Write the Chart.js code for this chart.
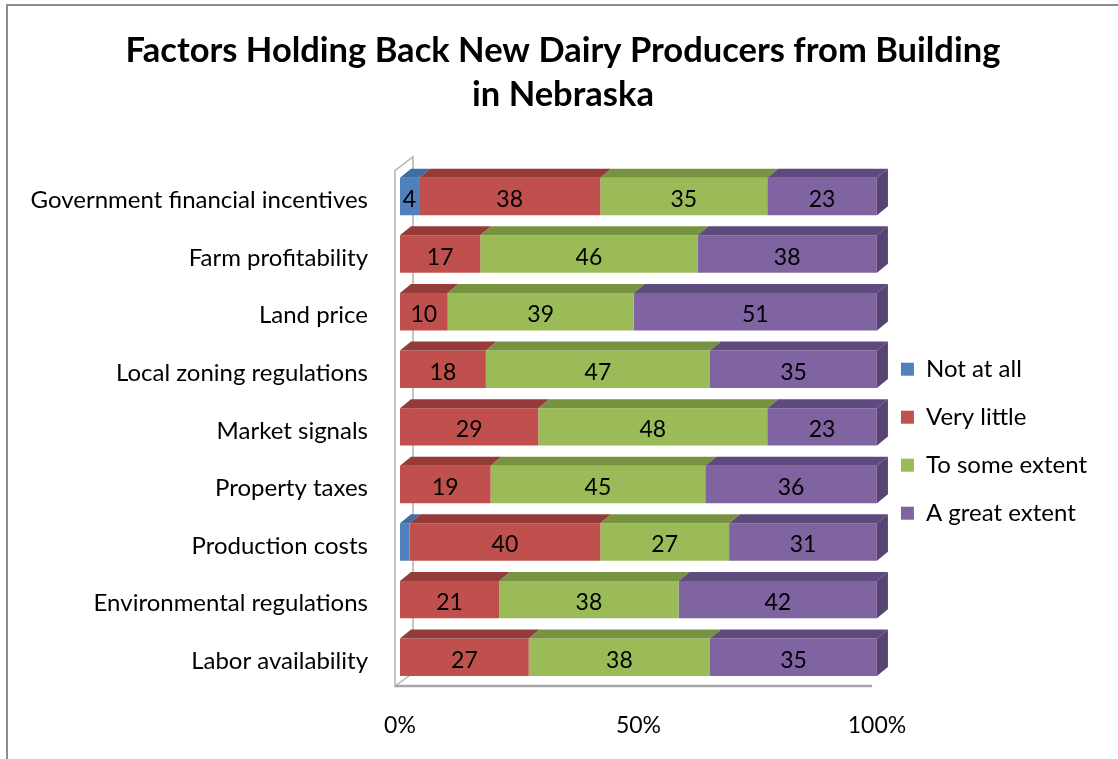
<!DOCTYPE html>
<html>
<head>
<meta charset="utf-8">
<script src="https://cdn.jsdelivr.net/npm/chart.js@4.4.1/dist/chart.umd.min.js"></script>
<style>
  html, body { margin: 0; padding: 0; background: #fff; overflow: hidden; }
  #frame { position: absolute; left: 6px; top: 4px; width: 1300px; height: 900px; border: 2px solid #8c8c8c; }
  #wrap { position: absolute; left: 0; top: 0; width: 1118px; height: 759px; }
</style>
</head>
<body>
<div id="frame"></div>
<div id="wrap"><canvas id="dairyChart" width="1118" height="759"></canvas></div>
<script>
// survey answers, percent of respondents per factor
const categories = [
  "Government financial incentives",
  "Farm profitability",
  "Land price",
  "Local zoning regulations",
  "Market signals",
  "Property taxes",
  "Production costs",
  "Environmental regulations",
  "Labor availability"
];
const notAtAll     = [4, 0, 0, 0, 0, 0, 2, 0, 0];
const veryLittle   = [38, 17, 10, 18, 29, 19, 40, 21, 27];
const toSomeExtent = [35, 46, 39, 47, 48, 45, 27, 38, 38];
const greatExtent  = [23, 38, 51, 35, 23, 36, 31, 42, 35];
const xTickLabels  = ["0%", "50%", "100%"];

const seriesNames = ["Not at all", "Very little", "To some extent", "A great extent"];
const frontColors = ["#4f81bd", "#c0504d", "#9bbb59", "#8064a2"];
const topColors   = ["#3e6ca3", "#953b39", "#78933f", "#5f4a7e"];
const sideColors  = ["#365f91", "#7f302e", "#657c34", "#574473"];

const allSeries = [notAtAll, veryLittle, toSomeExtent, greatExtent];
const rowTotals = categories.map((c, i) => allSeries.reduce((s, arr) => s + arr[i], 0));

// 100% stacked: each segment is its share of the row
const datasets = allSeries.map((arr, k) => ({
  label: seriesNames[k],
  data: arr.map((v, i) => v / rowTotals[i] * 100),
  raw: arr,
  backgroundColor: frontColors[k],
  borderWidth: 0,
  barPercentage: 0.65,
  categoryPercentage: 1
}));

const DX = 11, DY = -9;
const FONT = "Lato, 'Open Sans', sans-serif";

// wall + floor outline behind the bars
const wallPlugin = {
  id: "wall",
  beforeDatasetsDraw(chart) {
    const { ctx, chartArea: a } = chart;
    const L = a.left - 5, B = a.bottom, T = a.top + 3;
    ctx.save();
    ctx.strokeStyle = "#b3b3b3";
    ctx.lineWidth = 1.5;
    ctx.beginPath();
    ctx.moveTo(L + 18, B - 13);
    ctx.lineTo(L + 18, T - 14);
    ctx.lineTo(L, T);
    ctx.lineTo(L, B);
    ctx.lineTo(L + 18, B - 13);
    ctx.stroke();
    ctx.strokeStyle = "#a6a6a6";
    ctx.lineWidth = 2.5;
    ctx.beginPath();
    ctx.moveTo(L, B);
    ctx.lineTo(a.right - 5, B);
    ctx.stroke();
    ctx.restore();
  }
};

// top and end faces for the 3D look, then the value labels
const bar3dPlugin = {
  id: "bar3d",
  afterDatasetsDraw(chart) {
    const ctx = chart.ctx;
    const n = categories.length;
    ctx.save();
    for (let i = 0; i < n; i++) {
      let lastK = -1;
      chart.data.datasets.forEach((ds, k) => {
        const el = chart.getDatasetMeta(k).data[i];
        const p = el.getProps(["x", "y", "base", "height"], true);
        const x0 = Math.min(p.base, p.x), x1 = Math.max(p.base, p.x);
        if (x1 - x0 < 0.5) return;
        const top = p.y - p.height / 2;
        ctx.fillStyle = topColors[k];
        ctx.beginPath();
        ctx.moveTo(x0, top);
        ctx.lineTo(x1, top);
        ctx.lineTo(x1 + DX, top + DY);
        ctx.lineTo(x0 + DX, top + DY);
        ctx.closePath();
        ctx.fill();
        lastK = k;
      });
      if (lastK >= 0) {
        const el = chart.getDatasetMeta(lastK).data[i];
        const p = el.getProps(["x", "y", "height"], true);
        const top = p.y - p.height / 2, bot = p.y + p.height / 2;
        ctx.fillStyle = sideColors[lastK];
        ctx.beginPath();
        ctx.moveTo(p.x, top);
        ctx.lineTo(p.x + DX, top + DY);
        ctx.lineTo(p.x + DX, bot + DY);
        ctx.lineTo(p.x, bot);
        ctx.closePath();
        ctx.fill();
      }
    }
    ctx.fillStyle = "#000";
    ctx.font = "23px " + FONT;
    ctx.textAlign = "center";
    ctx.textBaseline = "middle";
    chart.data.datasets.forEach((ds, k) => {
      chart.getDatasetMeta(k).data.forEach((el, i) => {
        const v = ds.raw[i];
        if (v < 3) return;
        const p = el.getProps(["x", "y", "base"], true);
        ctx.fillText(String(v), (p.x + p.base) / 2, p.y + 3);
      });
    });
    ctx.restore();
  }
};

new Chart(document.getElementById("dairyChart"), {
  type: "bar",
  data: { labels: categories, datasets: datasets },
  plugins: [wallPlugin, bar3dPlugin],
  options: {
    indexAxis: "y",
    responsive: false,
    animation: false,
    layout: { padding: { left: 29, right: 21, top: 0, bottom: 21 } },
    plugins: {
      tooltip: { enabled: false },
      title: {
        display: true,
        text: ["Factors Holding Back New Dairy Producers from Building", "in Nebraska"],
        color: "#000",
        font: { family: FONT, size: 34.5, weight: "bold", lineHeight: 1.3 },
        padding: { top: 28, bottom: 50 }
      },
      legend: {
        position: "right",
        title: { display: true, text: "", font: { size: 12 }, padding: { top: 65, bottom: 65 } },
        labels: {
          color: "#000",
          font: { family: FONT, size: 24 },
          boxWidth: 13,
          boxHeight: 13,
          padding: 24
        }
      }
    },
    scales: {
      x: {
        stacked: true,
        min: 0,
        max: 100,
        grid: { display: false, drawTicks: false },
        border: { display: false },
        afterFit(scale) { scale.height = 52; },
        ticks: {
          stepSize: 50,
          padding: 26,
          color: "#000",
          font: { family: FONT, size: 23 },
          callback: (v) => xTickLabels[v / 50]
        }
      },
      y: {
        stacked: true,
        grid: { display: false, drawTicks: false },
        border: { display: false },
        afterFit(scale) { scale.width = 371; },
        ticks: {
          padding: 32,
          labelOffset: 4,
          color: "#000",
          font: { family: FONT, size: 24 }
        }
      }
    }
  }
});
</script>
</body>
</html>
